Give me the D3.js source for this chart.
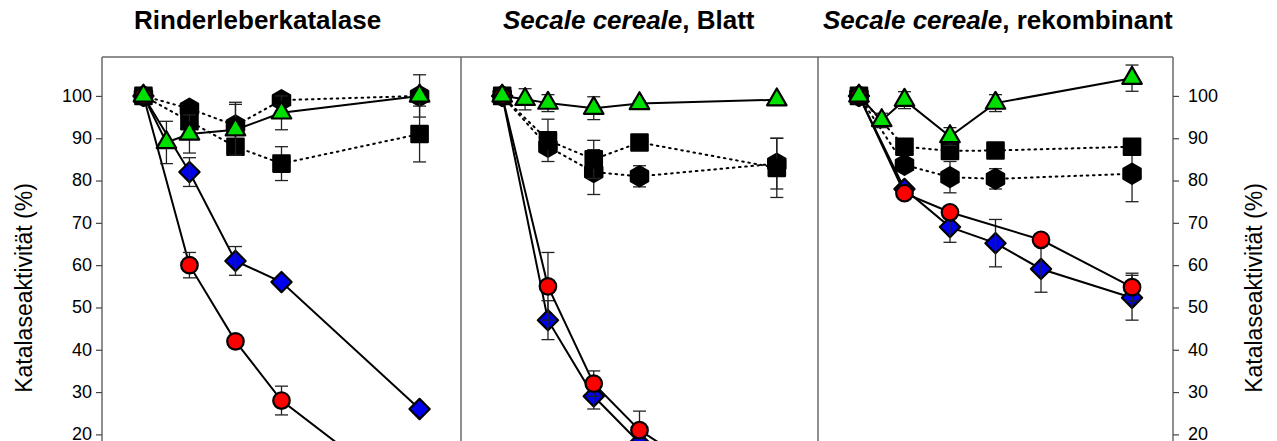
<!DOCTYPE html>
<html><head><meta charset="utf-8">
<script src="https://cdn.jsdelivr.net/npm/d3@7/dist/d3.min.js"></script>
<style>
body{margin:0;background:#fff}
svg{display:block;font-family:"Liberation Sans",Arial,Helvetica,sans-serif}
</style>
</head><body>
<svg id="chart" width="1277" height="441"></svg>
<script>
// ---------- data ----------
const yTickValues = [20, 30, 40, 50, 60, 70, 80, 90, 100];
const yAxisTitle = "Katalaseaktivität (%)";

// Panel 1: Rinderleberkatalase
const p1CircleX   = [0, 1, 2, 3, 6];
const p1CircleY   = [100, 60, 42, 28, 3];
const p1CircleE   = [0, 3, 1, 3.4, 0];
const p1DiamondX  = [0, 1, 2, 3, 6];
const p1DiamondY  = [100, 82, 61, 56, 26];
const p1DiamondE  = [0, 3.4, 3.4, 0, 0];
const p1TriangleX = [0, 0.5, 1, 2, 3, 6];
const p1TriangleY = [100, 89, 91, 92, 96, 100];
const p1TriangleE = [0, 5, 4.5, 6, 4, 5];
const p1SquareX   = [0, 1, 2, 3, 6];
const p1SquareY   = [100, 94, 88, 84, 91];
const p1SquareE   = [0, 0, 0, 4, 6.6];
const p1HexX      = [0, 1, 2, 3, 6];
const p1HexY      = [100, 97, 93, 99, 100];
const p1HexE      = [0, 0, 5.5, 0, 0];

// Panel 2: Secale cereale, Blatt
const p2CircleX   = [0, 1, 2, 3, 6];
const p2CircleY   = [100, 55, 32, 21, 0];
const p2CircleE   = [0, 8, 3, 4.5, 0];
const p2DiamondX  = [0, 1, 2, 3, 6];
const p2DiamondY  = [100, 47, 29, 18, 0];
const p2DiamondE  = [0, 4.6, 3, 0, 0];
const p2TriangleX = [0, 0.5, 1, 2, 3, 6];
const p2TriangleY = [100, 99.2, 98.3, 97.1, 98.2, 99.1];
const p2TriangleE = [0, 2.5, 2, 2.7, 0.6, 0];
const p2SquareX   = [0, 1, 2, 3, 6];
const p2SquareY   = [100, 89.5, 85, 89, 83];
const p2SquareE   = [0, 5, 4.5, 0, 7];
const p2HexX      = [0, 1, 2, 3, 6];
const p2HexY      = [100, 88, 82, 81, 84];
const p2HexE      = [0, 0, 5.3, 2.5, 6];

// Panel 3: Secale cereale, rekombinant
const p3CircleX   = [0, 1, 2, 4, 6];
const p3CircleY   = [100, 77, 72.5, 66, 54.8];
const p3CircleE   = [0, 0, 1, 0, 3.3];
const p3DiamondX  = [0, 1, 2, 3, 4, 6];
const p3DiamondY  = [100, 78, 69, 65.2, 59.1, 52.3];
const p3DiamondE  = [0, 0, 3.6, 5.6, 5.5, 5.3];
const p3TriangleX = [0, 0.5, 1, 2, 3, 6];
const p3TriangleY = [100, 94.2, 99, 90.4, 98.3, 104.2];
const p3TriangleE = [0, 1.7, 2, 2.1, 2, 3.1];
const p3SquareX   = [0, 1, 2, 3, 6];
const p3SquareY   = [100, 88, 87, 87.1, 88];
const p3SquareE   = [0, 0, 0, 0, 0];
const p3HexX      = [0, 1, 2, 3, 6];
const p3HexY      = [100, 83.7, 80.8, 80.4, 81.6];
const p3HexE      = [0, 0, 3.7, 2.4, 6.6];

const panelTitles = [
  [{t: "Rinderleberkatalase", i: false}],
  [{t: "Secale cereale", i: true}, {t: ", Blatt", i: false}],
  [{t: "Secale cereale", i: true}, {t: ", rekombinant", i: false}]
];

function mk(x, y, e) { return x.map((v, k) => ({x: v, y: y[k], e: e[k]})); }

const panels = [
  {hex: mk(p1HexX, p1HexY, p1HexE), square: mk(p1SquareX, p1SquareY, p1SquareE),
   diamond: mk(p1DiamondX, p1DiamondY, p1DiamondE), circle: mk(p1CircleX, p1CircleY, p1CircleE),
   triangle: mk(p1TriangleX, p1TriangleY, p1TriangleE)},
  {hex: mk(p2HexX, p2HexY, p2HexE), square: mk(p2SquareX, p2SquareY, p2SquareE),
   diamond: mk(p2DiamondX, p2DiamondY, p2DiamondE), circle: mk(p2CircleX, p2CircleY, p2CircleE),
   triangle: mk(p2TriangleX, p2TriangleY, p2TriangleE)},
  {hex: mk(p3HexX, p3HexY, p3HexE), square: mk(p3SquareX, p3SquareY, p3SquareE),
   diamond: mk(p3DiamondX, p3DiamondY, p3DiamondE), circle: mk(p3CircleX, p3CircleY, p3CircleE),
   triangle: mk(p3TriangleX, p3TriangleY, p3TriangleE)}
];

// ---------- layout ----------
const svg = d3.select("#chart");
const edges = [102, 461, 818, 1173];
const topY = 57, bottomY = 519;
const y = d3.scaleLinear().domain([0, 109.2]).range([bottomY, topY]);
const frameColor = "#6a6a6a";

// frame
svg.append("line").attr("x1", edges[0]).attr("x2", edges[3]).attr("y1", topY).attr("y2", topY)
  .attr("stroke", frameColor).attr("stroke-width", 1.5);
edges.forEach(ex => svg.append("line").attr("x1", ex).attr("x2", ex).attr("y1", topY).attr("y2", bottomY)
  .attr("stroke", frameColor).attr("stroke-width", 1.5));

// axes
const leftAxis = d3.axisLeft(y).tickValues(yTickValues).tickSize(6).tickPadding(4);
const gL = svg.append("g").attr("transform", `translate(${edges[0]},0)`).call(leftAxis);
const rightAxis = d3.axisRight(y).tickValues(yTickValues).tickSize(6).tickPadding(9);
const gR = svg.append("g").attr("transform", `translate(${edges[3]},0)`).call(rightAxis);
[gL, gR].forEach(g => {
  g.select(".domain").remove();
  g.selectAll(".tick line").attr("stroke", "#444").attr("stroke-width", 1.2);
  g.selectAll(".tick text").attr("font-size", 18).attr("fill", "#000")
    .attr("dy", "0.3em")
    .attr("font-family", '"Liberation Sans",Arial,sans-serif');
});

const midY = (topY + bottomY) / 2;
svg.append("text").attr("transform", `translate(32,${midY}) rotate(-90)`)
  .attr("text-anchor", "middle").attr("font-size", 23).text(yAxisTitle);
svg.append("text").attr("transform", `translate(1262,${midY}) rotate(-90)`)
  .attr("text-anchor", "middle").attr("font-size", 23).text(yAxisTitle);

// titles
const titleLeft = [134, 503, 823];
panelTitles.forEach((parts, k) => {
  const t = svg.append("text").attr("x", titleLeft[k]).attr("y", 29)
    .attr("font-size", 26).attr("font-weight", "bold");
  parts.forEach(p => t.append("tspan").attr("font-style", p.i ? "italic" : "normal").text(p.t));
});

// symbols
const hexPath = (r) => {
  const pts = d3.range(6).map(i => { const a = Math.PI / 3 * i - Math.PI / 2; return [r * Math.cos(a), r * Math.sin(a)]; });
  return "M" + pts.map(p => p.join(",")).join("L") + "Z";
};
const styles = {
  hex:      {fill: "#000", dash: "1.6,4.6", path: hexPath(10), rot: 0},
  square:   {fill: "#000", dash: "1.6,4.6", path: d3.symbol(d3.symbolSquare, 270)(), rot: 0},
  diamond:  {fill: "#0000f0", dash: null, path: d3.symbol(d3.symbolSquare, 205)(), rot: 45},
  circle:   {fill: "#ff0000", dash: null, path: d3.symbol(d3.symbolCircle, 215)(), rot: 0},
  triangle: {fill: "#00e000", dash: null, path: d3.symbol(d3.symbolTriangle, 165)(), rot: 0}
};
const order = ["hex", "square", "diamond", "circle", "triangle"];

panels.forEach((pd, k) => {
  const x = d3.scaleLinear().domain([-0.9, 6.9]).range([edges[k], edges[k + 1]]);
  const g = svg.append("g");
  const line = d3.line().x(d => x(d.x)).y(d => y(d.y));
  order.forEach(name => {
    const st = styles[name];
    const data = pd[name];
    const sg = g.append("g");
    sg.append("path").attr("d", line(data)).attr("fill", "none").attr("stroke", "#000")
      .attr("stroke-width", 2).attr("stroke-dasharray", st.dash)
      .attr("stroke-linecap", st.dash ? "round" : "butt");
    const errs = data.filter(d => d.e > 0);
    const drawErr = (sel) => {
      const eg = sel.selectAll(null).data(errs).enter().append("g").attr("stroke", "#222").attr("stroke-width", 1.3);
      eg.append("line").attr("x1", d => x(d.x)).attr("x2", d => x(d.x)).attr("y1", d => y(d.y - d.e)).attr("y2", d => y(d.y + d.e));
      eg.append("line").attr("x1", d => x(d.x) - 6.5).attr("x2", d => x(d.x) + 6.5).attr("y1", d => y(d.y + d.e)).attr("y2", d => y(d.y + d.e));
      eg.append("line").attr("x1", d => x(d.x) - 6.5).attr("x2", d => x(d.x) + 6.5).attr("y1", d => y(d.y - d.e)).attr("y2", d => y(d.y - d.e));
    };
    if (name !== "diamond") drawErr(sg);
    sg.selectAll(null).data(data).enter().append("path")
      .attr("d", st.path)
      .attr("transform", d => `translate(${x(d.x)},${y(d.y)}) rotate(${st.rot})`)
      .attr("fill", st.fill).attr("stroke", "#000").attr("stroke-width", 2.2)
      .attr("stroke-linejoin", "round");
    if (name === "diamond") drawErr(sg);
  });
});
</script>
</body></html>
